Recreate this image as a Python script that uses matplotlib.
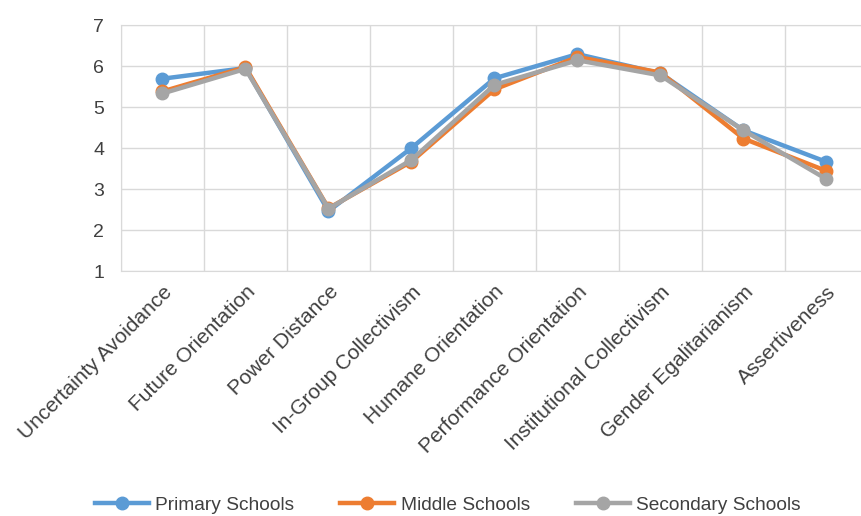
import matplotlib
matplotlib.use("Agg")
import matplotlib.pyplot as plt
import numpy as np

plt.rcParams['font.family'] = ['Liberation Sans', 'DejaVu Sans']

categories = ["Uncertainty Avoidance", "Future Orientation", "Power Distance",
              "In-Group Collectivism", "Humane Orientation", "Performance Orientation",
              "Institutional Collectivism", "Gender Egalitarianism", "Assertiveness"]
primary = [5.69, 5.95, 2.46, 4.00, 5.70, 6.29, 5.82, 4.43, 3.66]
middle = [5.38, 5.97, 2.53, 3.67, 5.43, 6.22, 5.84, 4.23, 3.44]
secondary = [5.33, 5.93, 2.52, 3.71, 5.54, 6.14, 5.77, 4.43, 3.24]

series = [("Primary Schools", primary, "#5B9BD5"),
          ("Middle Schools", middle, "#ED7D31"),
          ("Secondary Schools", secondary, "#A5A5A5")]

fig = plt.figure(figsize=(8.62, 5.16), dpi=100)
ax = fig.add_axes([121 / 862, 1 - 271 / 516, 747 / 862, 246 / 516])

x = np.arange(len(categories))
for name, vals, col in series:
    ax.plot(x, vals, color=col, lw=3.2, marker="o", markersize=9, label=name, zorder=3)

ax.set_xlim(-0.5, len(categories) - 0.5)
ax.set_ylim(1, 7)
ax.set_yticks(range(1, 8))
ax.set_xticks(x)
ax.set_xticklabels(categories, rotation=45, ha="right", rotation_mode="anchor", fontsize=15, color="#404040")
ax.set_xticks(np.arange(-0.5, len(categories), 1), minor=True)
ax.tick_params(axis="y", labelsize=14, labelcolor="#404040", length=0, pad=12)
ax.tick_params(axis="x", which="both", length=0, pad=8)
ax.grid(axis="y", color="#D9D9D9", lw=1)
ax.grid(axis="x", which="minor", color="#D9D9D9", lw=1)
for s in ax.spines.values():
    s.set_color("#D9D9D9")

ax.legend(loc="center", bbox_to_anchor=(448 / 862, 1 - 505 / 516), bbox_transform=fig.transFigure,
          ncol=3, frameon=False, fontsize=13.8, handlelength=2.8, columnspacing=2.4,
          labelcolor="#404040", handletextpad=0.35)

fig.savefig("out.png", dpi=100)
